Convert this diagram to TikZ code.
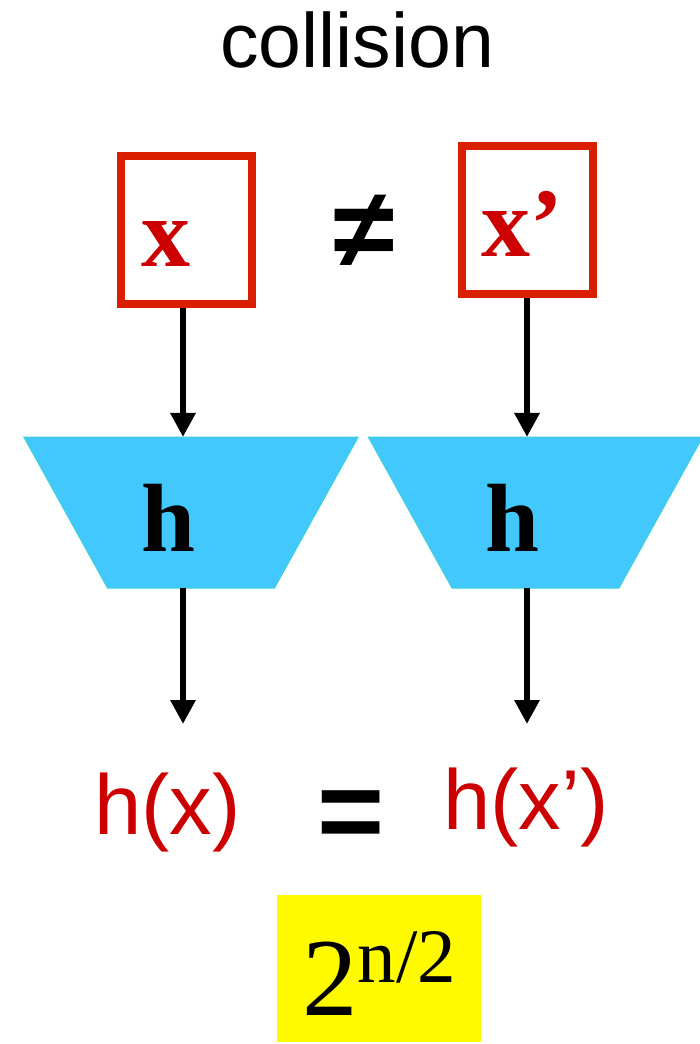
\documentclass[tikz,border=0pt]{standalone}
\usepackage{fontspec}
\setmainfont{Liberation Serif}
\newfontfamily\arialfont{Liberation Sans}
\usetikzlibrary{arrows.meta,shapes.geometric}
\definecolor{boxred}{RGB}{218,30,0}
\definecolor{txtred}{RGB}{204,0,0}
\definecolor{hashblue}{RGB}{66,200,252}
\definecolor{hashedge}{RGB}{60,210,215}
\definecolor{costyellow}{RGB}{255,250,0}

\begin{document}
\begin{tikzpicture}[x=1pt,y=-1pt,
  inbox/.style={draw=boxred, line width=8pt, minimum width=131pt, minimum height=148pt, inner sep=0pt},
  inlabel/.style={text=txtred, font=\bfseries\fontsize{98}{98}\selectfont, inner sep=0pt, anchor=base},
  hashbox/.style={trapezium, shape border rotate=180, trapezium angle=61,
    inner xsep=83.5pt, inner ysep=75.5pt, outer sep=0pt, fill=hashblue, draw=hashedge, line width=1pt},
  hashlabel/.style={font=\bfseries\fontsize{97}{97}\selectfont, inner sep=0pt, anchor=base},
  outlabel/.style={text=txtred, font=\arialfont\fontsize{85}{85}\selectfont, inner sep=0pt, anchor=base},
  rel/.style={font=\arialfont\bfseries\fontsize{#1}{#1}\selectfont, inner sep=0pt, anchor=base},
  flow/.style={line width=6.5pt, -{Triangle[length=24pt,width=24pt]}}]
\useasboundingbox (0,0) rectangle (699,1044);
% title
\node[font=\arialfont\fontsize{77}{77}\selectfont, anchor=base] (title) at (357,67) {collision};
% inputs
\node[inbox] (boxL) at (186.5,230) {};
\node[inbox] (boxR) at (527,219.5) {};
\node[inlabel] (xL) at (165.5,266) {x};
\node[inlabel, anchor=base west] (xR) at (481,256) {x’};
\node[rel=112] (neq) at (364,267) {≠};
% hash boxes
\node[hashbox] (hashL) at (191,512.5) {};
\node[hashbox] (hashR) at (535.5,512.5) {};
\node[hashlabel] (hL) at (168,551) {h};
\node[hashlabel] (hR) at (512.5,551) {h};
% outputs
\node[outlabel] (outL) at (167.5,834) {h(x)};
\node[outlabel] (outR) at (526,829) {h(x’)};
\node[rel=115] (eq) at (351.5,850) {=};
\coordinate (tipL) at (183,724);
\coordinate (tipR) at (527,724);
% arrows
\draw[flow] (183,0 |- boxL.south) -- (183,0 |- hashL.north);
\draw[flow] (527,0 |- boxR.south) -- (527,0 |- hashR.north);
\draw[flow] (183,0 |- hashL.south) -- (tipL);
\draw[flow] (527,0 |- hashR.south) -- (tipR);
% cost
\node[fill=costyellow, minimum width=204pt, minimum height=147pt, inner sep=0pt, text height=93pt, text depth=0pt] (cost) at (379,968.5)
  {\fontsize{111}{111}\selectfont 2\raisebox{33pt}{\fontsize{77}{77}\selectfont n/2}};
\end{tikzpicture}
\end{document}
